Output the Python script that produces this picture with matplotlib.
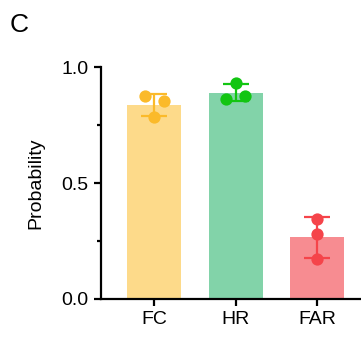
import numpy as np
from matplotlib import pyplot as plt

plt.rcParams['font.family'] = ['Liberation Sans', 'DejaVu Sans']

# per-subject probabilities for each measure
categories = ['FC', 'HR', 'FAR']
fc_values = [0.875, 0.853, 0.783]
hr_values = [0.932, 0.862, 0.875]
far_values = [0.346, 0.281, 0.171]
all_values = [fc_values, hr_values, far_values]

# horizontal spread of the dots so they don't overlap
dot_offsets = [[-0.12, 0.115, 0.0], [0.0, -0.12, 0.115], [0.0, 0.0, 0.0]]

bar_colors = ['#FDDA8A', '#82D3A9', '#F78C91']
dot_colors = ['#FBBA2A', '#12C512', '#F5444A']

fig = plt.figure(figsize=(3.61, 3.39), dpi=100)
ax = fig.add_axes([0.28, 0.118, 0.72, 0.684])

x = np.arange(len(categories))
means = [np.mean(v) for v in all_values]
sds = [np.std(v, ddof=1) for v in all_values]

ax.bar(x, means, width=0.667, color=bar_colors, zorder=1)
for i in range(len(categories)):
    ax.errorbar(x[i], means[i], yerr=sds[i], color=dot_colors[i], elinewidth=1.6,
                capsize=9.5, capthick=1.6, zorder=2)
    ax.scatter(x[i] + np.array(dot_offsets[i]), all_values[i], s=78,
               color=dot_colors[i], zorder=3, linewidths=0)

ax.set_xlim(-0.654, 2.54)
ax.set_ylim(0, 1.0)
ax.set_yticks([0, 0.5, 1.0])
ax.set_yticklabels(['0.0', '0.5', '1.0'])
ax.set_yticks([0.25, 0.75], minor=True)
ax.set_xticks(x)
ax.set_xticklabels(categories)

for side in ['top', 'right']:
    ax.spines[side].set_visible(False)
for side in ['left', 'bottom']:
    ax.spines[side].set_linewidth(1.6)
    ax.spines[side].set_capstyle('projecting')

ax.tick_params(axis='both', which='major', length=5, width=1.6, labelsize=14, pad=4)
ax.tick_params(axis='y', which='minor', length=3, width=1.6)
ax.set_ylabel('Probability', fontsize=14, labelpad=12)

fig.text(0.028, 0.905, 'C', fontsize=19)

plt.savefig('out.png', dpi=100)
